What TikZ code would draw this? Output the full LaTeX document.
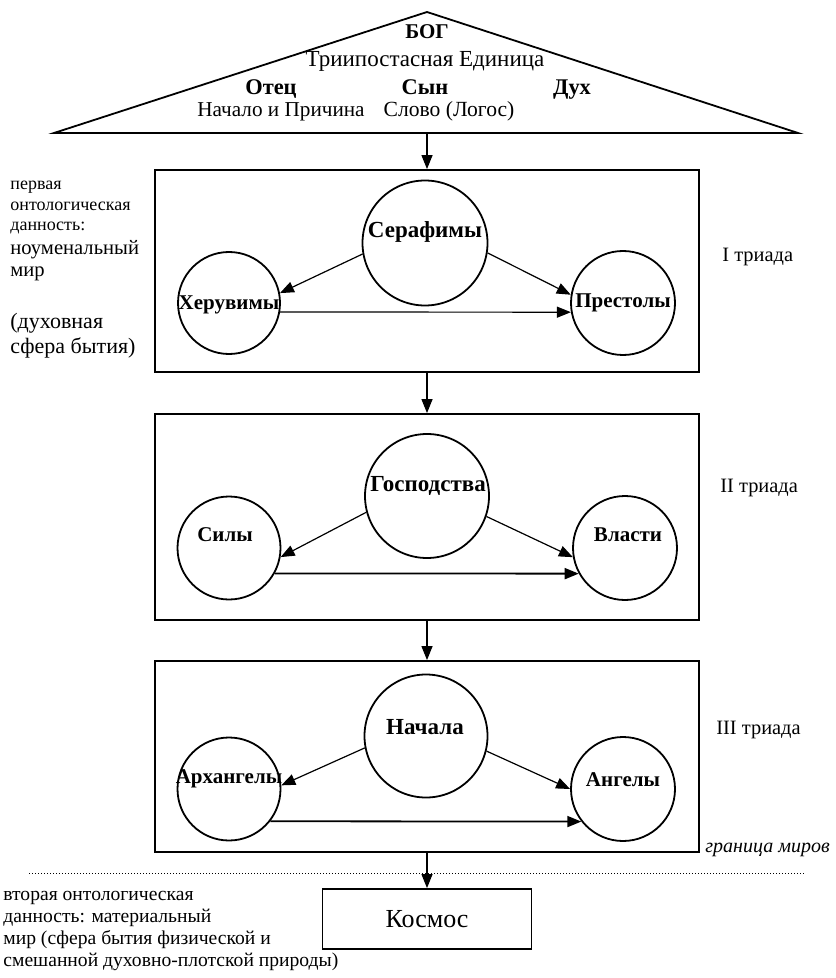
\documentclass[tikz,border=0pt]{standalone}
\usepackage{fontspec}
\setmainfont{Liberation Serif}
\usetikzlibrary{arrows.meta}

\tikzset{
  ramka/.style={draw, line width=0.9pt, minimum width=272pt, inner sep=0pt},
  krug/.style={draw, circle, line width=0.9pt, minimum size=#1, inner sep=0pt},
  imya/.style={font=\bfseries\fontsize{10.5}{12}\selectfont},
  imyab/.style={font=\bfseries\fontsize{11.5}{13}\selectfont},
  strelka/.style={-{Triangle[length=7pt,width=5.5pt]}, line width=0.6pt},
  triada/.style={anchor=west, inner sep=0pt, font=\fontsize{10.2}{12}\selectfont},
  opis/.style={anchor=west, align=left, inner sep=0pt},
  bog/.style={anchor=base, inner sep=0pt},
}

\begin{document}
\begin{tikzpicture}[x=0.5pt, y=-0.5pt]
  \useasboundingbox (0,0) rectangle (835,978);

  % Бог -- треугольник
  \draw[line width=0.9pt] (54,133) -- (427,12) -- (798,133) -- cycle;
  \coordinate (osnova) at (427,133);
  \node[bog, font=\bfseries\fontsize{10.5}{12}\selectfont] (bog) at (427,39) {БОГ};
  \node[bog, font=\fontsize{11.5}{13}\selectfont] (edin) at (425,67) {Триипостасная Единица};
  \node[bog, font=\bfseries\fontsize{11.2}{13}\selectfont] (otec) at (271,95) {Отец};
  \node[bog, font=\bfseries\fontsize{11.2}{13}\selectfont] (syn) at (425,95) {Сын};
  \node[bog, font=\bfseries\fontsize{11.2}{13}\selectfont] (duh) at (572,95) {Дух};
  \node[bog, font=\fontsize{10.6}{12}\selectfont] (prichina) at (281,117) {Начало и Причина};
  \node[bog, font=\fontsize{10.8}{12}\selectfont] (slovo) at (449,117) {Слово (Логос)};

  % триады
  \node[ramka, minimum height=101pt] (tr1) at (427,271) {};
  \node[ramka, minimum height=103pt] (tr2) at (427,517) {};
  \node[ramka, minimum height=95.5pt] (tr3) at (427,756.5) {};

  % I
  \node[krug=62.5pt] (ser) at (425,243) {};
  \node[imyab] (ser-t) at (425,232) {Серафимы};
  \node[krug=51pt] (her) at (229,303) {};
  \node[imya] (her-t) at (229,305) {Херувимы};
  \node[krug=52pt] (pre) at (623,303) {};
  \node[imya] (pre-t) at (623,303) {Престолы};
  \draw[strelka] (ser.190) -- (her.11);
  \draw[strelka] (ser.351) -- (pre.171);
  \draw[strelka] (her.-10) -- (pre.190);

  % II
  \node[krug=62pt] (gos) at (427,496) {};
  \node[imyab] (gos-t) at (428,486) {Господства};
  \node[krug=51.5pt] (sil) at (229,548) {};
  \node[imya] (sil-t) at (225,535) {Силы};
  \node[krug=52pt] (vla) at (625,548) {};
  \node[imya] (vla-t) at (628,535) {Власти};
  \draw[strelka] (gos.195) -- (sil.350);
  \draw[strelka] (gos.341) -- (vla.190);
  \draw[strelka, line width=0.9pt] (sil.-29) -- (vla.209);

  % III
  \node[krug=61.5pt] (nach) at (426,736) {};
  \node[imyab] (nach-t) at (425,727) {Начала};
  \node[krug=51.5pt] (arh) at (229,789) {};
  \node[imya] (arh-t) at (229,779) {Архангелы};
  \node[krug=52pt] (ang) at (623,789) {};
  \node[imya] (ang-t) at (623,780) {Ангелы};
  \draw[strelka] (nach.191) -- (arh.4);
  \draw[strelka] (nach.346) -- (ang.180);
  \draw[strelka, line width=0.9pt] (arh.-38) -- (ang.218);

  % космос
  \node[draw, line width=0.9pt, minimum width=104.5pt, minimum height=30pt,
        font=\fontsize{13}{15}\selectfont] (kosmos) at (427,919) {Космос};

  \draw[strelka] (osnova) -- (tr1.north);
  \draw[strelka] (tr1.south) -- (tr2.north);
  \draw[strelka] (tr2.south) -- (tr3.north);
  \draw[strelka] (tr3.south) -- (kosmos.north);

  % граница
  \coordinate (gr-l) at (29,873);
  \coordinate (gr-r) at (805,873);
  \draw[line width=0.5pt, dash pattern=on 0.6pt off 0.9pt] (gr-l) -- (gr-r);
  \node[anchor=west, inner sep=0pt, font=\itshape\fontsize{10}{12}\selectfont] (granica) at (705,850) {граница миров};

  \node[triada] (t1) at (722,257) {I триада};
  \node[triada] (t2) at (720,488) {II триада};
  \node[triada] (t3) at (716,730) {III триада};

  % слева
  \node[opis, font=\fontsize{9}{10.25}\selectfont] (opis1) at (10,208) {первая\\онтологическая\\данность:};
  \node[opis, font=\fontsize{10.3}{11}\selectfont] (opis2) at (10,261) {ноуменальный\\мир};
  \node[opis, font=\fontsize{11}{12.5}\selectfont] (opis3) at (10,335.5) {(духовная\\сфера бытия)};
  \node[opis, font=\fontsize{9.8}{10.85}\selectfont] (opis4) at (3,931) {вторая онтологическая\\данность: материальный\\мир (сфера бытия физической и\\смешанной духовно-плотской природы)};
\end{tikzpicture}
\end{document}
